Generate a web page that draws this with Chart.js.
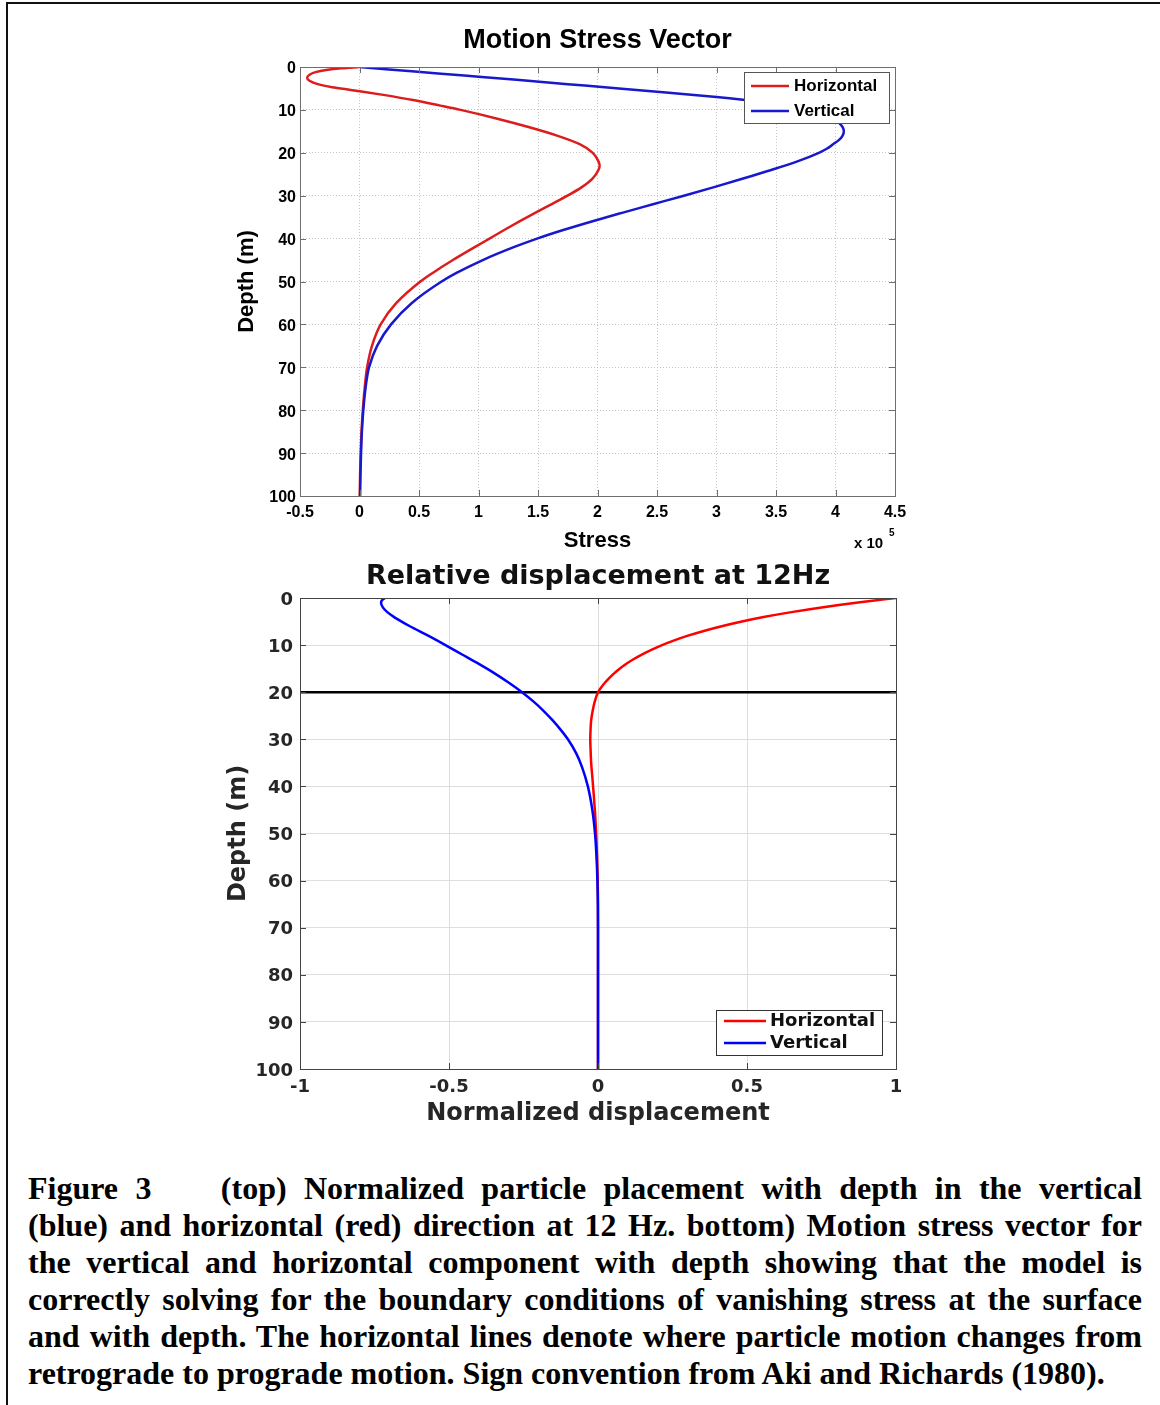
<!DOCTYPE html>
<html>
<head>
<meta charset="utf-8">
<script src="https://cdn.jsdelivr.net/npm/chart.js@4.4.1/dist/chart.umd.min.js"></script>
<style>
  html, body { margin: 0; padding: 0; background: #fff; }
  body { width: 1160px; height: 1405px; position: relative; overflow: hidden; }
  .frame { position: absolute; left: 6px; top: 2px; width: 1200px; height: 1450px;
           border-top: 2px solid #111; border-left: 2px solid #111; }
  canvas { position: absolute; }
  #stressChart { left: 220px; top: 20px; }
  #dispChart { left: 200px; top: 556px; }
  .caption { position: absolute; left: 28px; top: 1170px; width: 1114px;
             font-family: 'Liberation Serif', 'Times New Roman', serif; font-weight: bold;
             font-size: 32px; line-height: 37px; color: #000; }
  .caption div { white-space: nowrap; text-align: justify; text-align-last: justify; }
  .caption div.last { text-align: left; text-align-last: left; }
  .caption .gap { display: inline-block; width: 52px; }
</style>
</head>
<body>
<div class="frame"></div>
<canvas id="stressChart" width="700" height="536"></canvas>
<canvas id="dispChart" width="740" height="573"></canvas>
<div class="caption">
  <div>Figure 3<span class="gap"></span> (top) Normalized particle placement with depth in the vertical</div>
  <div>(blue) and horizontal (red) direction at 12 Hz. bottom) Motion stress vector for</div>
  <div>the vertical and horizontal component with depth showing that the model is</div>
  <div>correctly solving for the boundary conditions of vanishing stress at the surface</div>
  <div>and with depth. The horizontal lines denote where particle motion changes from</div>
  <div class="last">retrograde to prograde motion. Sign convention from Aki and Richards (1980).</div>
</div>

<script>
// top panel: stress (x 10^5) vs depth (m)
const stressTicksX = [-0.5, 4.5, 0.5];   // min, max, step
const depthTicks = [0, 100, 10];

const hStressDepth = [0, 0.3, 0.7, 1.2, 1.8, 2.5, 3.2, 4, 4.7, 5.4, 6.5, 7.7, 9, 10, 12, 14, 16, 18, 20, 22, 23,
  24, 26, 28, 30, 32, 34, 36, 38, 40, 42, 45, 48, 50, 55, 60, 65, 70, 75, 80, 85, 90, 95, 100];
const hStress = [0, -0.15, -0.28, -0.37, -0.42, -0.44, -0.42, -0.35, -0.23, -0.06, 0.2, 0.45, 0.68, 0.85, 1.15,
  1.42, 1.66, 1.85, 1.96, 2.008, 2.018, 2.008, 1.958, 1.868, 1.748, 1.612, 1.476, 1.344, 1.216, 1.092, 0.968,
  0.785, 0.615, 0.512, 0.31, 0.178, 0.105, 0.064, 0.043, 0.028, 0.017, 0.01, 0.005, 0.002];

const vStressDepth = [0, 1, 2, 3, 4, 5, 6, 7, 8, 9, 10, 11, 12, 13, 14, 15, 16, 17, 18, 19, 20, 22, 24, 26, 28, 30,
  32, 34, 36, 38, 40, 42, 45, 48, 50, 55, 60, 65, 70, 75, 80, 85, 90, 95, 100];
const vStress = [0, 0.44, 0.88, 1.32, 1.75, 2.18, 2.6, 3.0, 3.35, 3.62, 3.8, 3.92, 3.99, 4.03, 4.06, 4.07, 4.06, 4.03,
  3.98, 3.93, 3.86, 3.68, 3.46, 3.224, 2.98, 2.726, 2.466, 2.206, 1.952, 1.712, 1.492, 1.296, 1.036, 0.815, 0.69,
  0.44, 0.265, 0.148, 0.08, 0.05, 0.032, 0.02, 0.013, 0.008, 0.005];

// bottom panel: normalized displacement vs depth (m)
const dispTicksX = [-1, 1, 0.5];
const boundaryDepth = 20;

const hDispDepth = [0, 1, 2, 3, 4, 5, 6, 7, 8, 9, 10, 11, 12, 13, 14, 15, 16, 17, 18, 19, 20, 22, 24, 26, 28, 30,
  32, 35, 38, 42, 46, 50, 55, 60, 65, 70, 80, 90, 100];
const hDisp = [1.0, 0.866, 0.75, 0.649, 0.56, 0.483, 0.415, 0.355, 0.302, 0.256, 0.215, 0.179, 0.147, 0.119, 0.094,
  0.0725, 0.054, 0.0375, 0.023, 0.0105, 0.0, -0.011, -0.018, -0.023, -0.025, -0.026, -0.025, -0.023, -0.019,
  -0.014, -0.0095, -0.006, -0.003, -0.001, 0, 0, 0, 0, 0];

const vDispDepth = [0, 0.5, 1, 2, 3, 4, 5, 6, 8, 10, 12, 14, 16, 18, 20, 22, 24, 26, 28, 30, 33, 36, 40, 45, 50, 55,
  60, 65, 70, 80, 90, 100];
const vDisp = [-0.715, -0.725, -0.728, -0.722, -0.707, -0.685, -0.659, -0.631, -0.57, -0.512, -0.456, -0.4, -0.347,
  -0.299, -0.255, -0.216, -0.182, -0.152, -0.125, -0.101, -0.073, -0.053, -0.034, -0.019, -0.01, -0.005, -0.002,
  -0.0005, 0, 0, 0, 0];

const toPoints = (xs, ys) => xs.map((x, i) => ({ x: x, y: ys[i] }));
const plainTick = v => String(+v.toFixed(2));

// axes box with inward ticks, like matlab
const frameBox = {
  id: 'frameBox',
  afterDatasetsDraw(chart, args, opts) {
    const { ctx, chartArea: a } = chart;
    const xs = chart.scales.x, ys = chart.scales.y;
    ctx.save();
    ctx.strokeStyle = opts.color;
    ctx.lineWidth = opts.width;
    ctx.beginPath();
    xs.ticks.forEach((t, i) => {
      const px = Math.round(xs.getPixelForTick(i)) + 0.5;
      ctx.moveTo(px, a.bottom); ctx.lineTo(px, a.bottom - opts.tick);
      ctx.moveTo(px, a.top); ctx.lineTo(px, a.top + opts.tick);
    });
    ys.ticks.forEach((t, i) => {
      const py = Math.round(ys.getPixelForTick(i)) + 0.5;
      ctx.moveTo(a.left, py); ctx.lineTo(a.left + opts.tick, py);
      ctx.moveTo(a.right, py); ctx.lineTo(a.right - opts.tick, py);
    });
    ctx.stroke();
    ctx.strokeRect(Math.round(a.left) + 0.5, Math.round(a.top) + 0.5,
      Math.round(a.right - a.left), Math.round(a.bottom - a.top));
    ctx.restore();
  }
};

const boxLegend = {
  id: 'boxLegend',
  afterDraw(chart, args, opts) {
    if (!opts.width) return;
    const { ctx, chartArea: a } = chart;
    const x = Math.round(a.right - opts.right - opts.width);
    const y = Math.round(opts.top != null ? a.top + opts.top : a.bottom - opts.bottom - opts.height);
    ctx.save();
    ctx.fillStyle = '#fff';
    ctx.fillRect(x, y, opts.width, opts.height);
    ctx.strokeStyle = opts.borderColor;
    ctx.lineWidth = 1;
    ctx.strokeRect(x + 0.5, y + 0.5, opts.width, opts.height);
    ctx.font = opts.font;
    ctx.textBaseline = 'middle';
    ctx.textAlign = 'left';
    chart.data.datasets.filter(d => d.inLegend).forEach((d, i) => {
      const rowY = y + opts.firstRow + i * opts.rowGap;
      ctx.strokeStyle = d.borderColor;
      ctx.lineWidth = d.borderWidth;
      ctx.beginPath();
      ctx.moveTo(x + opts.lineStart, rowY);
      ctx.lineTo(x + opts.lineEnd, rowY);
      ctx.stroke();
      ctx.fillStyle = opts.textColor;
      ctx.fillText(d.label, x + opts.textStart, rowY);
    });
    ctx.restore();
  }
};

const sciNote = {
  id: 'sciNote',
  afterDraw(chart, args, opts) {
    if (!opts.text) return;
    const { ctx, chartArea: a } = chart;
    ctx.save();
    ctx.fillStyle = '#000';
    ctx.textBaseline = 'middle';
    ctx.textAlign = 'left';
    ctx.font = 'bold 15px "Liberation Sans", Arial, sans-serif';
    ctx.fillText(opts.text, a.right - 41, a.bottom + 48);
    ctx.font = 'bold 10px "Liberation Sans", Arial, sans-serif';
    ctx.fillText(opts.exp, a.right - 6, a.bottom + 37);
    ctx.restore();
  }
};

Chart.register(frameBox, boxLegend, sciNote);

const SANS = "'Liberation Sans', Arial, sans-serif";
const DEJAVU = "'DejaVu Sans', sans-serif";

// depth runs down the y axis, so curves are smoothed along y
const curve = { showLine: true, pointRadius: 0, indexAxis: 'y', cubicInterpolationMode: 'monotone', borderWidth: 2.5 };

new Chart(document.getElementById('stressChart'), {
  type: 'scatter',
  data: {
    datasets: [
      Object.assign({ label: 'Horizontal', data: toPoints(hStress, hStressDepth), inLegend: true,
        borderColor: '#dd1d1d', order: 2 }, curve),
      Object.assign({ label: 'Vertical', data: toPoints(vStress, vStressDepth), inLegend: true,
        borderColor: '#1818cc', order: 1 }, curve)
    ]
  },
  options: {
    responsive: false,
    animation: false,
    devicePixelRatio: 1,
    layout: { padding: { left: 0, right: 25, top: 0, bottom: 0 } },
    scales: {
      x: {
        type: 'linear', min: stressTicksX[0], max: stressTicksX[1],
        ticks: { stepSize: stressTicksX[2], padding: 7, color: '#000', maxRotation: 0, callback: plainTick,
          font: { family: SANS, size: 16, weight: 'bold' } },
        grid: { color: '#c4c4c4', lineWidth: 1, drawTicks: false },
        border: { display: false, dash: [1, 2] },
        title: { display: true, text: 'Stress', color: '#000', padding: { top: 0, bottom: 1.8 },
          font: { family: SANS, size: 22, weight: 'bold' } },
        afterFit: s => { s.height = 60; }
      },
      y: {
        type: 'linear', reverse: true, min: depthTicks[0], max: depthTicks[1],
        ticks: { stepSize: depthTicks[2], padding: 4, labelOffset: 2, color: '#000', callback: plainTick,
          font: { family: SANS, size: 16, weight: 'bold' } },
        grid: { color: '#c4c4c4', lineWidth: 1, drawTicks: false },
        border: { display: false, dash: [1, 2] },
        title: { display: true, text: 'Depth (m)', color: '#000', padding: { top: 13.8, bottom: 0 },
          font: { family: SANS, size: 22, weight: 'bold' } },
        afterFit: s => { s.width = 80; }
      }
    },
    plugins: {
      legend: { display: false },
      tooltip: { enabled: false },
      title: { display: true, text: 'Motion Stress Vector', fullSize: false, color: '#000',
        padding: { top: 4.8, bottom: 9.8 }, font: { family: SANS, size: 27, weight: 'bold' } },
      frameBox: { color: '#6e6e6e', width: 1, tick: 6 },
      boxLegend: { width: 145, height: 51, right: 6, top: 5, firstRow: 14, rowGap: 25,
        lineStart: 7, lineEnd: 45, textStart: 50, borderColor: '#555', textColor: '#000',
        font: 'bold 17px "Liberation Sans", Arial, sans-serif' },
      sciNote: { text: 'x 10', exp: '5' }
    }
  }
});

new Chart(document.getElementById('dispChart'), {
  type: 'scatter',
  data: {
    datasets: [
      Object.assign({ label: 'Horizontal', data: toPoints(hDisp, hDispDepth), inLegend: true,
        borderColor: '#ff0000', order: 2 }, curve),
      Object.assign({ label: 'Vertical', data: toPoints(vDisp, vDispDepth), inLegend: true,
        borderColor: '#0000ff', order: 1 }, curve),
      { label: 'Boundary', data: [{ x: dispTicksX[0], y: boundaryDepth }, { x: dispTicksX[1], y: boundaryDepth }],
        showLine: true, borderColor: '#000', borderWidth: 2.5, pointRadius: 0, order: 3 }
    ]
  },
  options: {
    responsive: false,
    animation: false,
    devicePixelRatio: 1,
    layout: { padding: { left: 0, right: 44, top: 0, bottom: 0 } },
    scales: {
      x: {
        type: 'linear', min: dispTicksX[0], max: dispTicksX[1],
        ticks: { stepSize: dispTicksX[2], padding: 8, color: '#262626', maxRotation: 0, callback: plainTick,
          font: { family: DEJAVU, size: 18, weight: 'bold' } },
        grid: { color: '#dedede', lineWidth: 1, drawTicks: false },
        border: { display: false },
        title: { display: true, text: 'Normalized displacement', color: '#262626', padding: { top: 0, bottom: 0.6 },
          font: { family: DEJAVU, size: 24, weight: 'bold' } },
        afterFit: s => { s.height = 60; }
      },
      y: {
        type: 'linear', reverse: true, min: depthTicks[0], max: depthTicks[1],
        ticks: { stepSize: depthTicks[2], padding: 7, labelOffset: 2, color: '#262626', callback: plainTick,
          font: { family: DEJAVU, size: 18, weight: 'bold' } },
        grid: { color: '#dedede', lineWidth: 1, drawTicks: false },
        border: { display: false },
        title: { display: true, text: 'Depth (m)', color: '#262626', padding: { top: 24, bottom: 0 },
          font: { family: DEJAVU, size: 24, weight: 'bold' } },
        afterFit: s => { s.width = 100; }
      }
    },
    plugins: {
      legend: { display: false },
      tooltip: { enabled: false },
      title: { display: true, text: 'Relative displacement at 12Hz', fullSize: false, color: '#111',
        padding: { top: 4.8, bottom: 4.8 }, font: { family: DEJAVU, size: 27, weight: 'bold' } },
      frameBox: { color: '#444', width: 1, tick: 6 },
      boxLegend: { width: 166, height: 45, right: 14, bottom: 14, firstRow: 11, rowGap: 22,
        lineStart: 8, lineEnd: 50, textStart: 54, borderColor: '#333', textColor: '#111',
        font: 'bold 18px "DejaVu Sans", sans-serif' },
      sciNote: {}
    }
  }
});
</script>
</body>
</html>
